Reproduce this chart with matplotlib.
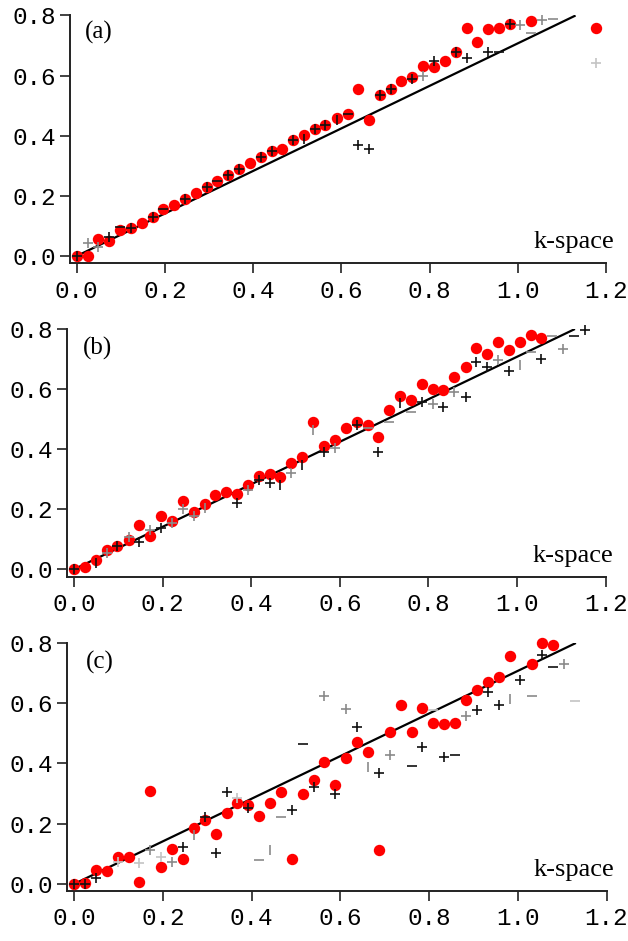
import matplotlib
matplotlib.use("Agg")
import matplotlib.pyplot as plt
import numpy as np

# k-space grid (x values)
K = [0.000, 0.025, 0.049, 0.074, 0.098, 0.123, 0.147, 0.172, 0.196, 0.221,
     0.245, 0.270, 0.295, 0.319, 0.344, 0.368, 0.393, 0.417, 0.442, 0.466,
     0.491, 0.515, 0.540, 0.564, 0.589, 0.614, 0.638, 0.663, 0.687, 0.712,
     0.736, 0.761, 0.785, 0.810, 0.834, 0.859, 0.884, 0.908, 0.933, 0.957,
     0.982, 1.006, 1.031, 1.055, 1.080, 1.104, 1.129, 1.154, 1.178]

# reference line
line_x = [0.0, 1.131]
line_y = [0.0, 0.8]

# red dots per panel (None = not shown)
red_a = [0.0, 0.0, 0.056, 0.05, 0.087, 0.092, 0.111, 0.131, 0.156, 0.171,
         0.19, 0.209, 0.228, 0.248, 0.268, 0.288, 0.309, 0.329, 0.348, 0.356,
         0.387, 0.403, 0.422, 0.437, 0.459, 0.473, 0.556, 0.451, 0.537, 0.556,
         0.581, 0.594, 0.631, 0.628, 0.649, 0.678, 0.757, 0.711, 0.756, 0.759,
         0.773, None, 0.782, None, None, None, None, None, 0.76]
red_b = [0.0, 0.007, 0.031, 0.064, 0.078, 0.096, 0.148, 0.111, 0.176, 0.162,
         0.226, 0.19, 0.217, 0.246, 0.256, 0.25, 0.281, 0.312, 0.317, 0.307,
         0.353, 0.373, 0.49, 0.412, 0.431, 0.47, 0.489, 0.481, 0.44, 0.531,
         0.576, 0.562, 0.617, 0.6, 0.596, 0.639, 0.673, 0.737, 0.717, 0.757,
         0.731, 0.757, 0.779, 0.77, None, None, None, None, None]
red_c = [0.0, 0.002, 0.047, 0.043, 0.088, 0.088, 0.006, 0.309, 0.058, 0.115,
         0.083, 0.185, 0.213, 0.166, 0.235, 0.268, 0.263, 0.226, 0.27, 0.305,
         0.082, 0.298, 0.345, 0.404, 0.327, 0.418, 0.473, 0.438, 0.113, 0.503,
         0.593, 0.506, 0.583, 0.534, 0.531, 0.536, 0.611, 0.644, 0.672, 0.687,
         0.758, None, 0.73, 0.8, 0.794, None, None, None, None]

# cross markers: grid index, value, marker, shade
cross_a_i = [0, 1, 2, 3, 4, 5, 7, 8, 10, 12, 13, 14, 15, 17, 18, 20, 21, 22, 23, 24,
             25, 26, 27, 28, 29, 31, 32, 33, 35, 36, 38, 39, 40, 41, 42, 43, 44, 48]
cross_a_y = [0.0, 0.044, 0.029, 0.062, 0.098, 0.092, 0.131, 0.156, 0.19, 0.228,
             0.248, 0.268, 0.288, 0.329, 0.348, 0.387, 0.39, 0.422, 0.437, 0.452,
             0.473, 0.368, 0.356, 0.537, 0.556, 0.59, 0.60, 0.648, 0.678, 0.659,
             0.679, 0.679, 0.773, 0.767, 0.742, 0.784, 0.787, 0.642]
cross_a_m = ['+', '+', '+', '+', '_', '+', '+', '_', '+', '+', '_', '+', '+', '+', '+', '+', '|', '+', '+', '|',
             '_', '+', '+', '+', '+', '+', '+', '+', '+', '+', '+', '_', '+', '+', '_', '+', '_', '+']
cross_a_s = ['k', 'g', 'g', 'k', 'k', 'k', 'k', 'k', 'k', 'k', 'k', 'k', 'k', 'k', 'k', 'k', 'k', 'k', 'k', 'k',
             'k', 'k', 'k', 'k', 'k', 'k', 'g', 'k', 'k', 'k', 'k', 'k', 'k', 'g', 'g', 'g', 'g', 'l']

cross_b_i = [0, 2, 3, 4, 5, 6, 7, 8, 9, 10, 11, 12, 15, 16, 17, 18, 19, 20, 21, 22, 23, 24,
             26, 27, 28, 29, 30, 31, 32, 33, 34, 35, 36, 37, 38, 39, 40, 41, 42, 43, 44, 45, 46, 47]
cross_b_y = [0.0, 0.02, 0.053, 0.078, 0.109, 0.092, 0.131, 0.137, 0.153, 0.2, 0.176, 0.203,
             0.222, 0.264, 0.298, 0.287, 0.281, 0.32, 0.348, 0.464, 0.389, 0.403,
             0.481, 0.47, 0.389, 0.492, 0.553, 0.522, 0.556, 0.551, 0.539, 0.589, 0.573,
             0.689, 0.673, 0.698, 0.661, 0.681, 0.722, 0.70, 0.776, 0.733, 0.776, 0.796]
cross_b_m = ['+', '|', '+', '+', '+', '+', '+', '+', '+', '+', '+', '|', '+', '+', '+', '+', '|', '+', '|', '|', '+', '+',
             '+', '_', '+', '_', '|', '_', '+', '+', '+', '+', '+', '+', '+', '+', '+', '|', '_', '+', '_', '+', '_', '+']
cross_b_s = ['k', 'k', 'g', 'k', 'g', 'k', 'g', 'k', 'g', 'g', 'g', 'g', 'k', 'g', 'k', 'k', 'k', 'g', 'k', 'g', 'k', 'g',
             'k', 'g', 'k', 'g', 'k', 'g', 'k', 'g', 'k', 'g', 'k', 'k', 'k', 'g', 'k', 'g', 'g', 'k', 'g', 'g', 'k', 'k']

cross_c_i = [0, 1, 2, 4, 6, 7, 8, 9, 10, 11, 12, 13, 14, 15, 16, 17, 18, 19, 20, 21, 22, 23, 24,
             25, 26, 27, 28, 29, 31, 32, 33, 34, 35, 36, 37, 38, 39, 40, 41, 42, 43, 44, 45, 46]
cross_c_y = [0.0, 0.0, 0.019, 0.074, 0.069, 0.113, 0.091, 0.074, 0.124, 0.163, 0.224, 0.102,
             0.307, 0.285, 0.251, 0.078, 0.113, 0.222, 0.246, 0.464, 0.323, 0.625, 0.299,
             0.58, 0.521, 0.39, 0.37, 0.429, 0.392, 0.456, 0.578, 0.421, 0.429, 0.556,
             0.578, 0.636, 0.595, 0.614, 0.676, 0.623, 0.761, 0.719, 0.731, 0.609]
cross_c_m = ['+', '+', '+', '+', '+', '+', '+', '+', '+', '|', '+', '+', '+', '+', '+', '_', '|', '_', '+', '_', '+', '+', '+',
             '+', '+', '|', '+', '+', '_', '+', '_', '+', '_', '+', '+', '+', '+', '|', '+', '_', '+', '_', '+', '_']
cross_c_s = ['k', 'k', 'k', 'l', 'l', 'g', 'l', 'g', 'k', 'g', 'k', 'k', 'k', 'l', 'k', 'g', 'g', 'g', 'k', 'k', 'k', 'g', 'k',
             'g', 'k', 'g', 'k', 'g', 'k', 'k', 'l', 'k', 'k', 'g', 'k', 'k', 'k', 'g', 'k', 'g', 'k', 'k', 'g', 'l']

x_ticks = [0.0, 0.2, 0.4, 0.6, 0.8, 1.0, 1.2]
y_ticks = [0.0, 0.2, 0.4, 0.6, 0.8]
x_ticklabels = ["0.0", "0.2", "0.4", "0.6", "0.8", "1.0", "1.2"]
y_ticklabels = ["0.0", "0.2", "0.4", "0.6", "0.8"]
panel_labels = ["(a)", "(b)", "(c)"]
axis_text = "k-space"

SHADES = {'k': '#111111', 'g': '#8a8a8a', 'l': '#c4c4c4'}

fig = plt.figure(figsize=(6.28, 9.41), dpi=100)
rects = [
    [70 / 628, 1 - 263 / 941, (606 - 70) / 628, (263 - 15.5) / 941],
    [67.3 / 628, 1 - 576.7 / 941, (605.5 - 67.3) / 628, (576.7 - 329) / 941],
    [67.3 / 628, 1 - 890.7 / 941, (606.5 - 67.3) / 628, (890.7 - 643) / 941],
]
ylims = [(-0.0233, 0.8), (-0.0247, 0.8), (-0.0223, 0.8)]
label_pos = [(0.049, 0.745), (0.052, 0.734), (0.059, 0.734)]
reds = [red_a, red_b, red_c]
crosses = [(cross_a_i, cross_a_y, cross_a_m, cross_a_s),
           (cross_b_i, cross_b_y, cross_b_m, cross_b_s),
           (cross_c_i, cross_c_y, cross_c_m, cross_c_s)]

tick_font = dict(family=['Liberation Mono', 'DejaVu Sans Mono'], size=17.5)

for p in range(3):
    ax = fig.add_axes(rects[p])
    ax.set_xlim(-0.0152, 1.2)
    ax.set_ylim(*ylims[p])
    for s in ['top', 'right']:
        ax.spines[s].set_visible(False)
    for s in ['left', 'bottom']:
        ax.spines[s].set_linewidth(1.4)
        ax.spines[s].set_color('#222222')
    ax.set_xticks(x_ticks)
    ax.set_yticks(y_ticks)
    ax.set_xticklabels(x_ticklabels, fontdict=tick_font)
    ax.set_yticklabels(y_ticklabels, fontdict=tick_font)
    ax.tick_params(axis='both', direction='out', length=7, width=1.2, color='#222222')
    ax.tick_params(axis='x', pad=5)
    ax.tick_params(axis='y', pad=3)

    ax.plot(line_x, line_y, color='black', lw=1.6, zorder=2, solid_capstyle='butt')

    ry = np.array([np.nan if v is None else v for v in reds[p]], dtype=float)
    ax.plot(K, ry, linestyle='none', marker='o', ms=8.2, mfc='#ff0000', mec='#ff0000',
            mew=0, zorder=3, clip_on=False)

    ci, cy, cm, cs = crosses[p]
    cx = np.array([K[i] for i in ci])
    cy = np.array(cy)
    cm = np.array(cm)
    cs = np.array(cs)
    for m in ['+', '_', '|']:
        for s in ['l', 'g', 'k']:
            sel = (cm == m) & (cs == s)
            if sel.any():
                ax.plot(cx[sel], cy[sel], linestyle='none', marker=m, ms=7,
                        mew=1.2, color=SHADES[s], zorder=4, clip_on=False)

    ax.text(label_pos[p][0], label_pos[p][1], panel_labels[p], ha='center', va='center',
            fontsize=18, family=['Liberation Serif', 'DejaVu Serif'], zorder=5)
    ax.text(1.218, 0.025, axis_text, ha='right', va='baseline', fontsize=19,
            family=['Liberation Serif', 'DejaVu Serif'], zorder=5, clip_on=False)

fig.savefig('out.png', dpi=100)
